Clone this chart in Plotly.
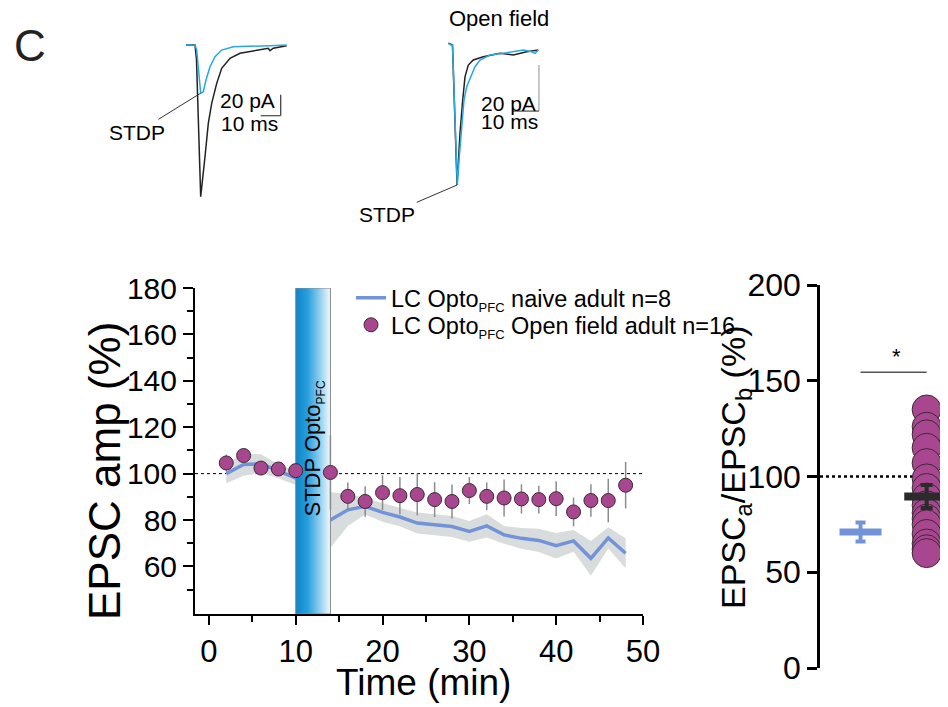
import plotly.graph_objects as go

# ---------------- data ----------------
time_min = [2, 4, 6, 8, 10, 14, 16, 18, 20, 22, 24, 26, 28, 30, 32, 34, 36, 38, 40, 42, 44, 46, 48]
naive_mean = [100, 103.9, 104.3, 101, 98.1, 80, 84.4, 85.9, 83.3, 81.3, 78.7, 78, 77.2, 75.1, 77.5,
              73.6, 72.1, 71.2, 68.9, 71.0, 63.5, 72.3, 65.7]
naive_sem = [4.2, 4.8, 4.0, 3.0, 3.0, 12, 7, 3.5, 4, 4, 4.5, 4.5, 4.5, 4.5, 5, 3.8, 4.5, 5, 5.5, 4.7,
             7.5, 4.6, 6.5]
of_mean = [104.6, 107.8, 102.4, 102.0, 101.3, 100.5, 90.2, 88.0, 91.8, 90.5, 91.0, 88.8, 88.0, 92.7,
           90.2, 89.5, 89.1, 88.8, 89.2, 83.5, 88.4, 88.4, 95.0]
of_sem = [3.6, 2.5, 2, 2, 2, 16, 6, 6.6, 7.5, 8, 9, 7.5, 7.3, 5.8, 6, 8, 6.3, 6, 7.5, 6.2, 7, 9.4, 10]
stim_start, stim_end = 10, 14
baseline_ref = 100

# summary panel
group_pos = [1, 2]
naive_ratio_mean, naive_ratio_sem = 71.0, 5.0
of_ratio_values = [135, 126, 122, 115, 107, 99, 94, 89, 85, 81, 78, 75, 70, 65, 62, 60]
of_ratio_mean, of_ratio_sem = 89.5, 6.0
sig_bar_y = 154.4

# example traces (ms, pA)
naive_black_t = [3, 7.5, 8.25, 9.25, 10.35, 12.5, 14.15, 15.85, 18.35, 20.85, 25, 30, 38.35, 44.15, 45, 46.65, 53.35]
naive_black_i = [0, 0, -14.3, -81, -144.5, -106.4, -74.6, -55.5, -36.5, -22.2, -12.7, -7.9, -4.8, -3.1, -5.4, -3.1, -0.7]
naive_blue_t = [3, 7.5, 8.35, 9.65, 10.35, 11.65, 13, 15, 17.5, 20.85, 26.65, 45, 53.35]
naive_blue_i = [0, 0, -4.8, -33.3, -46, -44.5, -33.3, -20.7, -11.1, -4.8, -1.6, -0.7, 0]
of_black_t = [7.04, 8.65, 10.4, 11.54, 12.58, 13.46, 14.73, 16.65, 20.5, 26.9, 32.04, 37.2, 41.65]
of_black_i = [-0.1, -0.9, -61.7, -39.1, -24.8, -14.7, -9.6, -7.4, -6.0, -4.5, -5.2, -3.8, -3.0]
of_blue_t = [7.04, 8.08, 8.65, 10.5, 11.27, 12.19, 13.08, 14.12, 15.65, 17.31, 19.23, 23.08, 29.5, 35.9, 39.1, 40.4, 41.65]
of_blue_i = [-0.1, -0.9, -0.9, -61.7, -49.4, -34.9, -24.8, -19, -14.7, -10.3, -7.4, -5.2, -4.2, -3.0, -3.8, -4.5, -3.0]
scale_pA, scale_ms = 20, 10
left_bar_corner = (50.35, -67.3)
mid_bar_corner = (41.9, -29.6)

# ---------------- style ----------------
FONT = "Liberation Sans, Arial, sans-serif"
BLUE = "#7393d8"
PURPLE = "#a8478f"
PURPLE_EDGE = "#3b2a35"
BAND = "#d9dcdc"
TRACE_BLUE = "#2aa7e1"
PAGE_OFF = 8                      # default page body margin
W, H = 948 - PAGE_OFF, 707 - PAGE_OFF

def px_x(p):
    return (p - PAGE_OFF) / W

def px_y(p):
    return 1 - (p - PAGE_OFF) / H

SUB = '<sub><span style="font-size:13px">PFC</span></sub>'

fig = go.Figure()

# band (naive SEM)
upper = [m + s for m, s in zip(naive_mean, naive_sem)]
lower = [m - s for m, s in zip(naive_mean, naive_sem)]
fig.add_trace(go.Scatter(x=time_min + time_min[::-1], y=upper + lower[::-1], fill="toself",
                         fillcolor=BAND, line=dict(width=0), mode="lines", showlegend=False,
                         hoverinfo="skip", xaxis="x", yaxis="y"))
fig.add_trace(go.Scatter(x=time_min, y=naive_mean, mode="lines", line=dict(color=BLUE, width=3.5),
                         name="LC Opto" + SUB + " naive adult n=8", legend="legend",
                         xaxis="x", yaxis="y"))

# stimulation bar
y_lo, y_hi = 39.5, 180
fig.add_trace(go.Scatter(x=[stim_start, stim_end, stim_end, stim_start, stim_start],
                         y=[y_lo, y_lo, y_hi, y_hi, y_lo], fill="toself", mode="lines",
                         line=dict(color="#8a8a8a", width=1),
                         fillgradient=dict(type="horizontal",
                                           colorscale=[[0, "#0a84cb"], [0.35, "#2a9fdc"],
                                                       [0.7, "#92cff0"], [1, "#f3f9fd"]]),
                         showlegend=False, hoverinfo="skip", xaxis="x", yaxis="y"))

# open field circles
fig.add_trace(go.Scatter(x=time_min, y=of_mean, mode="markers",
                         marker=dict(size=14, color=PURPLE, line=dict(color=PURPLE_EDGE, width=1)),
                         error_y=dict(type="data", array=of_sem, visible=True, color="#8c8c8c",
                                      thickness=1.5, width=0),
                         name="LC Opto" + SUB + " Open field adult n=16", legend="legend2",
                         xaxis="x", yaxis="y"))

# summary panel
fig.add_trace(go.Scatter(x=[group_pos[1]] * len(of_ratio_values), y=of_ratio_values, mode="markers",
                         marker=dict(size=29, color=PURPLE, line=dict(color=PURPLE_EDGE, width=1)),
                         showlegend=False, xaxis="x2", yaxis="y2"))
fig.add_trace(go.Scatter(x=[group_pos[0]], y=[naive_ratio_mean], mode="markers",
                         marker=dict(symbol="line-ew", size=30, line=dict(width=7, color=BLUE)),
                         error_y=dict(type="data", array=[naive_ratio_sem], color=BLUE, thickness=4, width=5),
                         showlegend=False, xaxis="x2", yaxis="y2"))
fig.add_trace(go.Scatter(x=[group_pos[1]], y=[of_ratio_mean], mode="markers",
                         marker=dict(symbol="line-ew", size=32, line=dict(width=8, color="#2b2b2b")),
                         error_y=dict(type="data", array=[of_ratio_sem], color="#2b2b2b", thickness=4, width=6),
                         showlegend=False, xaxis="x2", yaxis="y2"))
fig.add_trace(go.Scatter(x=group_pos, y=[sig_bar_y, sig_bar_y], mode="lines",
                         line=dict(color="#555555", width=1.5), showlegend=False, xaxis="x2", yaxis="y2"))

# example traces
for t, i, c, ax, ay in [(naive_black_t, naive_black_i, "#222222", "x3", "y3"),
                        (naive_blue_t, naive_blue_i, TRACE_BLUE, "x3", "y3"),
                        (of_black_t, of_black_i, "#222222", "x4", "y4"),
                        (of_blue_t, of_blue_i, TRACE_BLUE, "x4", "y4")]:
    fig.add_trace(go.Scatter(x=t, y=i, mode="lines", line=dict(color=c, width=1.5),
                             showlegend=False, xaxis=ax, yaxis=ay))

# scale bars
for (cx, cy), ax, ay, vcol in [(left_bar_corner, "x3", "y3", "#444444"),
                               (mid_bar_corner, "x4", "y4", "#aaaaaa")]:
    fig.add_trace(go.Scatter(x=[cx, cx], y=[cy, cy + scale_pA], mode="lines",
                             line=dict(color=vcol, width=1.3), showlegend=False, xaxis=ax, yaxis=ay))
    fig.add_trace(go.Scatter(x=[cx - scale_ms, cx], y=[cy, cy], mode="lines",
                             line=dict(color="#555555", width=1.3), showlegend=False, xaxis=ax, yaxis=ay))

ax_common = dict(showgrid=False, zeroline=False, showline=True, linecolor="black", linewidth=2,
                 ticks="outside", tickcolor="black", tickwidth=2,
                 tickfont=dict(family=FONT, size=30, color="black"))

leg_common = dict(xanchor="left", yanchor="middle", font=dict(family=FONT, size=23.5, color="black"),
                  bgcolor="rgba(0,0,0,0)", borderwidth=0)

fig.update_layout(
    width=W, height=H, margin=dict(l=0, r=0, t=0, b=0, autoexpand=False),
    paper_bgcolor="white", plot_bgcolor="rgba(0,0,0,0)",
    font=dict(family=FONT, color="black"),
    xaxis=dict(domain=[px_x(195), px_x(643)], range=[-1.6, 50], anchor="y",
               tickvals=[0, 10, 20, 30, 40, 50], ticklen=9,
               minor=dict(tickvals=[5, 15, 25, 35, 45], ticklen=6, tickwidth=2, tickcolor="black", ticks="outside"),
               **{**ax_common, "tickfont": dict(family=FONT, size=31, color="black")}),
    yaxis=dict(domain=[px_y(614), px_y(288)], range=[y_lo, y_hi], anchor="x",
               tickvals=[60, 80, 100, 120, 140, 160, 180], ticklen=10,
               minor=dict(tickvals=[50, 70, 90, 110, 130, 150, 170], ticklen=6, tickwidth=2,
                          tickcolor="black", ticks="outside"),
               **ax_common),
    xaxis2=dict(domain=[px_x(820), 1.0], range=[0.387, 2.452 - PAGE_OFF / 62], anchor="y2", visible=False),
    yaxis2=dict(domain=[px_y(668), px_y(285)], range=[0, 200], anchor="x2",
                tickvals=[0, 50, 100, 150, 200], ticklen=10,
                **{**ax_common, "linewidth": 2.5, "tickwidth": 2.5,
                   "tickfont": dict(family=FONT, size=32, color="black")}),
    xaxis3=dict(domain=[px_x(180), px_x(300)], range=[0, 60], anchor="y3", visible=False),
    yaxis3=dict(domain=[px_y(210), px_y(30)], range=[-157.1, 14.3], anchor="x3", visible=False),
    xaxis4=dict(domain=[px_x(430), px_x(560)], range=[0, 50], anchor="y4", visible=False),
    yaxis4=dict(domain=[px_y(210), px_y(30)], range=[-72.6, 5.65], anchor="x4", visible=False),
    legend=dict(x=px_x(351), y=px_y(298), **leg_common),
    legend2=dict(x=px_x(351), y=px_y(325), **leg_common),
    showlegend=True,
)

# reference lines
fig.add_shape(type="line", xref="x domain", yref="y", x0=0, x1=1, y0=baseline_ref, y1=baseline_ref,
              line=dict(color="black", width=1, dash="dot"), layer="below")
fig.add_shape(type="line", xref="x2 domain", yref="y2", x0=0, x1=1, y0=baseline_ref, y1=baseline_ref,
              line=dict(color="black", width=2.5, dash="dot"), layer="below")

def ann(text, x, y, size, xref="paper", yref="paper", angle=0, **kw):
    fig.add_annotation(text=text, x=x, y=y, xref=xref, yref=yref, showarrow=kw.pop("showarrow", False),
                       textangle=angle, font=dict(family=FONT, size=size, color=kw.pop("color", "black")),
                       xanchor="center", yanchor="middle", **kw)

ann("EPSC amp (%)", px_x(104), px_y(471), 44, angle=-90)
ann("Time (min)", px_x(423), px_y(682), 37)
ann("EPSC<sub>a</sub>/EPSC<sub>b</sub> (%)", px_x(735), px_y(468), 34, angle=-90)
ann("STDP Opto" + '<sub><span style="font-size:12px">PFC</span></sub>', (stim_start + stim_end) / 2 + 0.1,
    110.8, 22, xref="x", yref="y", angle=-90)
ann("*", 1.55, 162.6, 22, xref="x2", yref="y2")
ann("C", px_x(30), px_y(46), 44, color="#222222")
ann("Open field", px_x(499), px_y(19), 22)
ann("20 pA", 33.75, -53.0, 21, xref="x3", yref="y3")
ann("10 ms", 34.5, -74.3, 21, xref="x3", yref="y3")
ann("20 pA", 30.0, -26.1, 21, xref="x4", yref="y4")
ann("10 ms", 30.4, -34.3, 21, xref="x4", yref="y4")
ann("STDP", 10.2, -46, 21, xref="x3", yref="y3", showarrow=True, ax=-63, ay=39,
    arrowhead=0, arrowwidth=1, arrowcolor="#333333")
ann("STDP", 10.5, -61.7, 21, xref="x4", yref="y4", showarrow=True, ax=-70, ay=30,
    arrowhead=0, arrowwidth=1, arrowcolor="#333333")

fig.write_html("out.html")
